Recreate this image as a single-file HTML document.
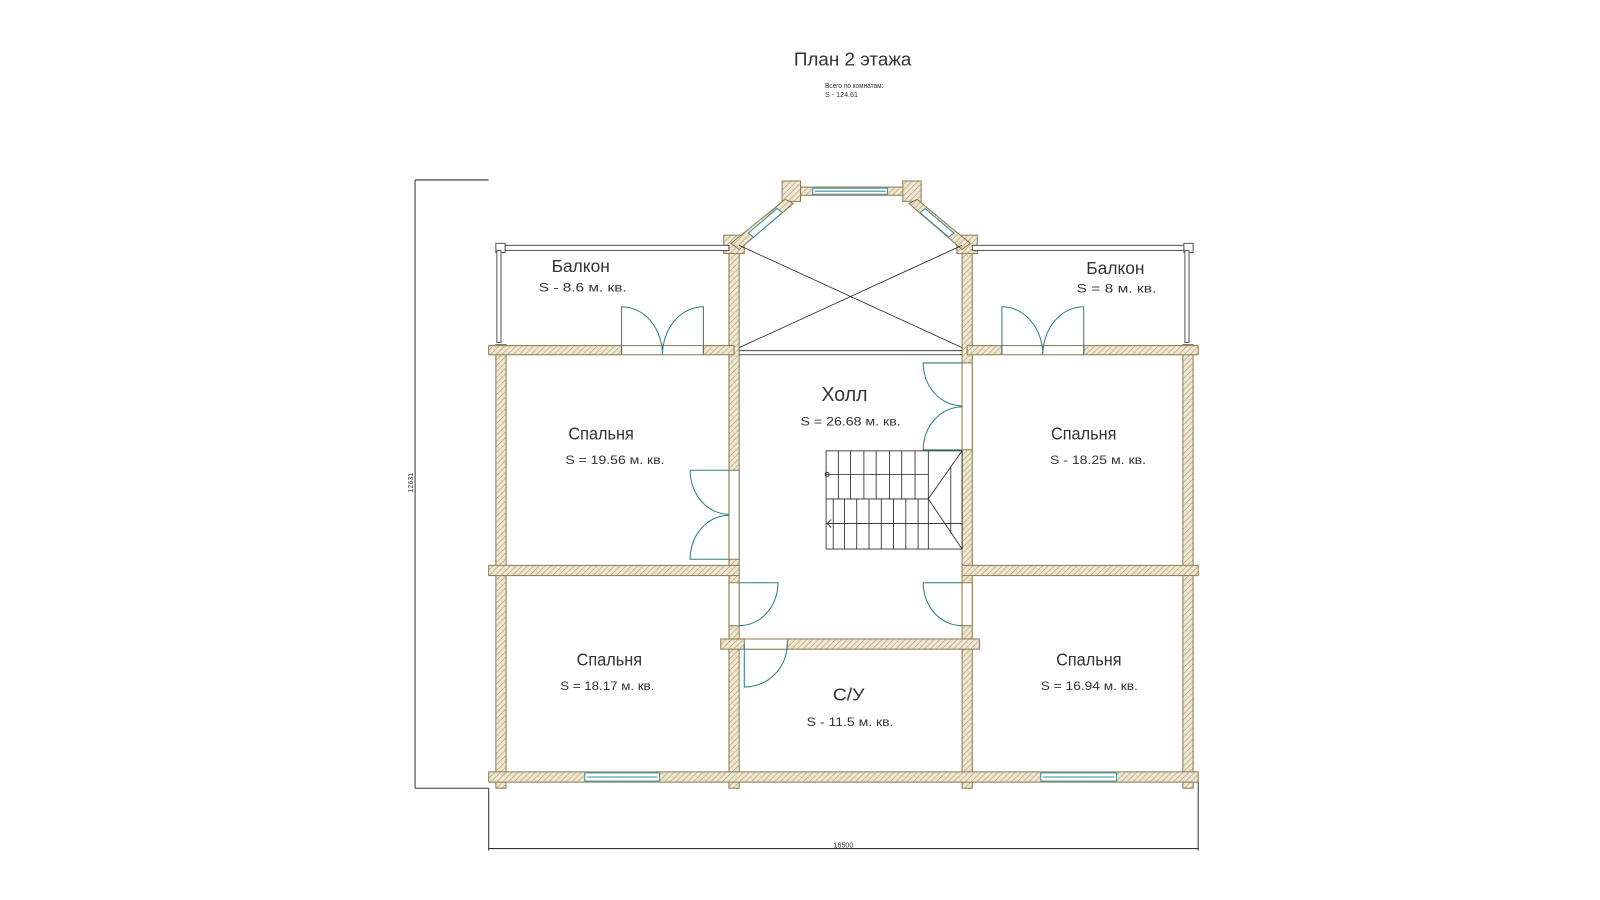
<!DOCTYPE html>
<html><head><meta charset="utf-8"><style>
html,body{margin:0;padding:0;background:#fff}
svg{display:block}
text{font-family:"Liberation Sans","DejaVu Sans",sans-serif;fill:#333}
</style></head><body>
<svg width="1600" height="900" viewBox="0 0 1565 880.3" xmlns="http://www.w3.org/2000/svg">
<defs>
<pattern id="h" width="4" height="4" patternUnits="userSpaceOnUse" patternTransform="rotate(45)">
<rect width="4" height="4" fill="#efe7d2"/><line x1="0" y1="0" x2="0" y2="4" stroke="#a8986c" stroke-width="1.2"/>
</pattern>
</defs>
<rect width="1565" height="881" fill="#fff"/>
<g fill="url(#h)" stroke="#8c7c55" stroke-width="1">
<!-- vertical walls -->
<rect x="485" y="337" width="10" height="434"/>
<rect x="713" y="232" width="10" height="539"/>
<rect x="941" y="232" width="10" height="539"/>
<rect x="1157" y="337" width="10" height="434"/>
<!-- horizontal top -->
<rect x="478" y="338" width="130" height="9"/>
<rect x="688" y="338" width="30" height="9"/>
<rect x="946" y="338" width="34" height="9"/>
<rect x="1060" y="338" width="112" height="9"/>
<!-- middle -->
<rect x="478" y="553" width="245" height="10"/>
<rect x="941" y="553" width="231" height="10"/>
<!-- bottom -->
<rect x="478" y="755" width="694" height="10"/>
<!-- CU top -->
<rect x="705" y="625" width="253" height="10"/>
<!-- posts -->
<rect x="708" y="230" width="20" height="18"/>
<rect x="936" y="230" width="20" height="18"/>
<!-- bay -->
<rect x="772" y="183" width="121" height="8"/>
<rect x="765" y="177" width="18" height="20"/>
<rect x="883" y="177" width="18" height="20"/>
<polygon points="768,195 776,199 723,244 715,238"/>
<polygon points="897,195 889,199 941,244 949,238"/>
</g>
<!-- re-draw junction posts without inner lines -->
<g fill="#fff" stroke="#8c7c55" stroke-width="1">
<!-- openings -->
<rect x="608" y="338" width="80" height="9"/>
<rect x="980" y="338" width="80" height="9"/>
<rect x="713" y="460" width="10" height="87"/>
<rect x="713" y="570" width="10" height="42"/>
<rect x="941" y="355" width="10" height="85"/>
<rect x="941" y="570" width="10" height="42"/>
<rect x="728" y="625" width="42" height="10"/>
</g>
<!-- windows -->
<g fill="#fff" stroke="#3a8f9a" stroke-width="1">
<rect x="572" y="756" width="73" height="8"/><line x1="574" y1="760" x2="643" y2="760"/>
<rect x="1018" y="756" width="74" height="8"/><line x1="1020" y1="760" x2="1090" y2="760"/>
<rect x="795" y="184" width="73" height="6"/><line x1="797" y1="187" x2="866" y2="187"/>
<polygon points="760,204 765,208 737,232 732,228"/>
<polygon points="905,204 900,208 928,232 933,228"/>
</g>
<!-- balcony rails -->
<g fill="#fff" stroke="#555" stroke-width="1">
<rect x="486" y="240" width="227" height="5"/>
<rect x="485" y="238" width="9" height="9"/>
<rect x="486" y="245" width="4" height="90"/>
<rect x="951" y="240" width="212" height="5"/>
<rect x="1158" y="238" width="9" height="9"/>
<rect x="1159" y="245" width="4" height="90"/>
</g>
<!-- void cross -->
<g stroke="#222" stroke-width="0.8" fill="none">
<line x1="723" y1="240" x2="941" y2="340"/>
<line x1="723" y1="340" x2="941" y2="240"/>
<line x1="723" y1="343" x2="941" y2="343"/>
<line x1="723" y1="347" x2="941" y2="347"/>
</g>
<!-- doors -->
<g stroke="#2d7d7a" stroke-width="1" fill="none">
<path d="M608 347 V300 A40 47 0 0 1 648 347 M688 347 V300 A40 47 0 0 0 648 347"/>
<path d="M980 347 V300 A40 47 0 0 1 1020 347 M1060 347 V300 A40 47 0 0 0 1020 347"/>
<path d="M941 355 H903 A38 42 0 0 0 941 397 M941 440 H903 A38 42 0 0 1 941 398"/>
<path d="M713 460 H675 A38 43 0 0 0 713 503 M713 547 H675 A38 43 0 0 1 713 504"/>
<path d="M723 570 H761 A38 42 0 0 1 723 612"/>
<path d="M941 570 H903 A38 42 0 0 0 941 612"/>
<path d="M728 630 V672 A42 42 0 0 0 770 630"/>
</g>
<!-- stairs -->
<g stroke="#222" stroke-width="0.8" fill="none">
<rect x="808" y="441" width="133" height="96"/>
<line x1="808" y1="464" x2="908" y2="464"/>
<line x1="808" y1="488" x2="908" y2="488"/>
<line x1="808" y1="512" x2="941" y2="512"/>
<line x1="941" y1="441" x2="908" y2="488"/>
<line x1="908" y1="488" x2="941" y2="537"/>
<line x1="930" y1="456" x2="930" y2="522"/>
<path d="M820 441V488M832 441V488M845 441V488M857 441V488M870 441V488M882 441V488M895 441V488M908 441V488"/>
<path d="M815 488V537M826 488V537M838 488V537M850 488V537M862 488V537M874 488V537M886 488V537M898 488V537M908 488V537"/>
<circle cx="809" cy="464" r="2"/>
<path d="M813 508 L809 512 L813 516"/>
</g>
<!-- dimensions -->
<g stroke="#333" stroke-width="1" fill="none">
<path d="M406 176 H478 M406 176 V771 M406 771 H478"/>
<path d="M478 771 V832 M478 830 H1172 M1172 765 V832"/>
</g>
<text x="0" y="0" font-size="7" transform="translate(404,472) rotate(-90)" text-anchor="middle">12631</text>
<text x="825" y="829" font-size="7" text-anchor="middle">16500</text>
<!-- titles -->
<text x="834" y="64" font-size="18" text-anchor="middle" textLength="115" lengthAdjust="spacingAndGlyphs">План 2 этажа</text>
<text x="807" y="86" font-size="7" textLength="57" lengthAdjust="spacingAndGlyphs">Всего по комнатам:</text>
<text x="807" y="95" font-size="7">S  -  124.61</text>
<!-- room labels -->
<g font-size="17" text-anchor="middle">
<text x="568" y="266" textLength="57" lengthAdjust="spacingAndGlyphs">Балкон</text>
<text x="1091" y="268" textLength="57" lengthAdjust="spacingAndGlyphs">Балкон</text>
<text x="826" y="392" font-size="20" textLength="45" lengthAdjust="spacingAndGlyphs">Холл</text>
<text x="588" y="430" textLength="64" lengthAdjust="spacingAndGlyphs">Спальня</text>
<text x="1060" y="430" textLength="64" lengthAdjust="spacingAndGlyphs">Спальня</text>
<text x="596" y="651" textLength="64" lengthAdjust="spacingAndGlyphs">Спальня</text>
<text x="1065" y="651" textLength="64" lengthAdjust="spacingAndGlyphs">Спальня</text>
<text x="830" y="685" textLength="31" lengthAdjust="spacingAndGlyphs">С/У</text>
</g>
<g font-size="12">
<text x="527" y="285" textLength="86" lengthAdjust="spacingAndGlyphs">S   -  8.6 м. кв.</text>
<text x="1053" y="286" textLength="78" lengthAdjust="spacingAndGlyphs">S   =  8 м. кв.</text>
<text x="783" y="416" textLength="98" lengthAdjust="spacingAndGlyphs">S   =  26.68 м. кв.</text>
<text x="553" y="454" textLength="97" lengthAdjust="spacingAndGlyphs">S   =  19.56 м. кв.</text>
<text x="1027" y="454" textLength="94" lengthAdjust="spacingAndGlyphs">S   -  18.25 м. кв.</text>
<text x="548" y="675" textLength="92" lengthAdjust="spacingAndGlyphs">S   =  18.17 м. кв.</text>
<text x="1018" y="675" textLength="95" lengthAdjust="spacingAndGlyphs">S   =  16.94 м. кв.</text>
<text x="789" y="710" textLength="85" lengthAdjust="spacingAndGlyphs">S   -  11.5 м. кв.</text>
</g>
</svg>
</body></html>
